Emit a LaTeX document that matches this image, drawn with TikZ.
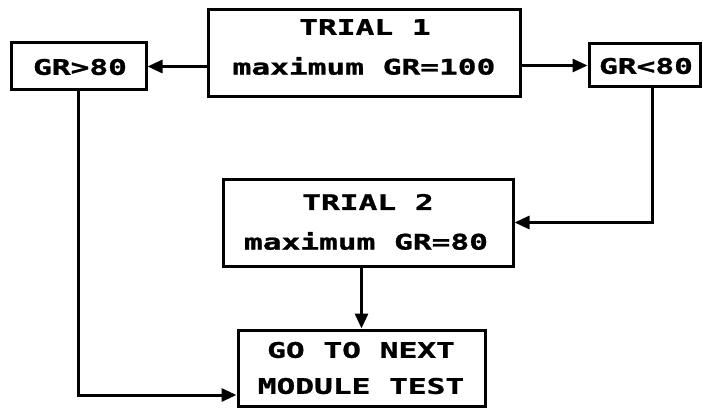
\documentclass[tikz,border=0pt]{standalone}
\usepackage{fontspec}
\usetikzlibrary{arrows.meta}
\newfontfamily\plotfont[FakeStretch=1.45,FakeBold=1.2]{DejaVu Sans Mono Bold}
\begin{document}
\begin{tikzpicture}[x=1pt,y=-1pt,
  box/.style={draw,line width=3pt,inner sep=0pt},
  txt/.style={inner sep=0pt,font=\plotfont\fontsize{21.5}{24}\selectfont},
  arr/.style={line width=3pt,-{Triangle[length=15pt,width=13pt]}}]
\useasboundingbox (0,0) rectangle (703,409);
% boxes
\node[box,minimum width=312pt,minimum height=87pt] (t1) at (364,53.5) {};
\node[box,minimum width=135pt,minimum height=47pt] (gt) at (78.5,66.5) {};
\node[box,minimum width=111pt,minimum height=43pt] (lt) at (644.5,65.5) {};
\node[box,minimum width=290pt,minimum height=87pt] (t2) at (368,222.5) {};
\node[box,minimum width=247pt,minimum height=76pt] (go) at (361.5,368) {};
% texts
\node[txt] (t1a) at (365,27) {TRIAL 1};
\node[txt] (t1b) at (364,66) {maximum GR=100};
\node[txt] (gta) at (80,67) {GR>80};
\node[txt] (lta) at (646,66) {GR<80};
\node[txt] (t2a) at (368,202) {TRIAL 2};
\node[txt] (t2b) at (366,241) {maximum GR=80};
\node[txt] (goa) at (361,350) {GO TO NEXT};
\node[txt] (gob) at (361,386) {MODULE TEST};
% connectors
\coordinate (c1) at (652,222.5);
\coordinate (c2) at (78.5,395);
\draw[arr] (t1.west |- gt.east) -- (gt.east);
\draw[arr] (t1.east |- lt.west) -- (lt.west);
\draw[arr] (lt.south -| c1) -- (c1) -- (t2.east);
\draw[arr] (t2.south -| go.north) -- (go.north);
\draw[arr] (gt.south) -- (c2) -- (go.west |- c2);
\end{tikzpicture}
\end{document}
